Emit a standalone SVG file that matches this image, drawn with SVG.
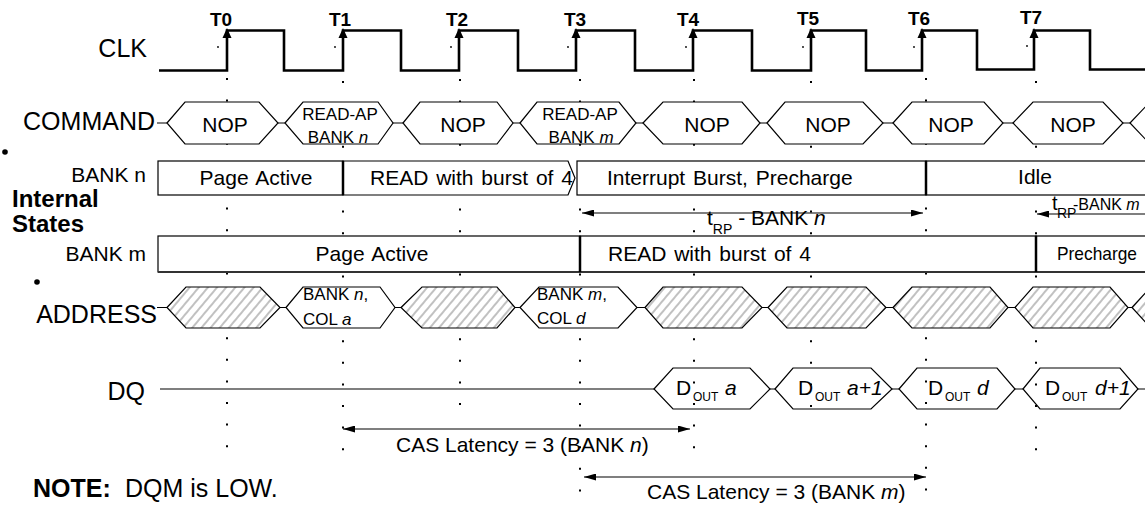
<svg xmlns="http://www.w3.org/2000/svg" width="1145" height="506" viewBox="0 0 1145 506">
<style>
text{font-family:"Liberation Sans",Arial,Helvetica,sans-serif;fill:#000}
.lbl{font-size:25px}
.bank{font-size:21px}
.tl{font-size:19px;font-weight:bold;text-anchor:middle}
.nop{font-size:21px;text-anchor:middle}
.sm{font-size:17px}
.smc{font-size:17px;text-anchor:middle}
.st{font-size:21px;word-spacing:2px}
.dq{font-size:21px}
.sub{font-size:12px}
.it{font-style:italic}
.hex{fill:#fff;stroke:#000;stroke-width:1.2}
.hx{fill:url(#hatch);stroke:#000;stroke-width:1.2}
.dqh{fill:none;stroke:#000;stroke-width:1.2}
.box{fill:#fff;stroke:#000;stroke-width:1.2}
.div{stroke:#000;stroke-width:2.5}
.grid{stroke:#000;stroke-width:2;stroke-dasharray:2 19.6;fill:none}
.wire{stroke:#000;stroke-width:1.2;fill:none}
.dim{stroke:#000;stroke-width:1.2;fill:none}
</style>
<defs>
<pattern id="hatch" width="7" height="10" patternUnits="userSpaceOnUse" patternTransform="rotate(40)">
<rect width="7" height="10" fill="#fff"/>
<line x1="1" y1="0" x2="1" y2="10" stroke="#a0a0a0" stroke-width="1.3"/>
</pattern>
<marker id="ah" viewBox="0 0 12 7" refX="12" refY="3.5" markerWidth="12" markerHeight="7" markerUnits="userSpaceOnUse" orient="auto-start-reverse">
<path d="M0,0 L12,3.5 L0,7 Z" fill="#000"/>
</marker>
</defs>
<rect width="1145" height="506" fill="#fff"/>

<!-- dotted time grid -->
<g id="grid">
<line class="grid" x1="227" y1="78" x2="227" y2="449"/>
<line class="grid" x1="343" y1="81" x2="343" y2="454"/>
<line class="grid" x1="460" y1="79" x2="460" y2="423"/>
<line class="grid" x1="580" y1="79" x2="580" y2="499"/>
<line class="grid" x1="694" y1="79" x2="694" y2="450"/>
<line class="grid" x1="811" y1="81" x2="811" y2="425"/>
<line class="grid" x1="926" y1="78" x2="926" y2="494"/>
<line class="grid" x1="1036" y1="81" x2="1036" y2="451"/>
<g fill="#000">
<circle cx="218" cy="47" r="0.9"/><circle cx="335" cy="47" r="0.9"/><circle cx="451" cy="47" r="0.9"/><circle cx="568" cy="47" r="0.9"/><circle cx="686" cy="47" r="0.9"/><circle cx="803" cy="47" r="0.9"/><circle cx="914" cy="47" r="0.9"/><circle cx="1027" cy="46" r="0.9"/>
<circle cx="5" cy="152" r="2.8"/><circle cx="37" cy="282" r="2.8"/>
</g>
</g>

<!-- row labels -->
<g id="labels">
<text class="lbl" x="147" y="57" text-anchor="end">CLK</text>
<text class="lbl" x="155" y="130" text-anchor="end">COMMAND</text>
<text class="bank" x="146" y="182" text-anchor="end">BANK n</text>
<text x="12" y="207" font-size="24" font-weight="bold">Internal</text>
<text x="12" y="232" font-size="24" font-weight="bold">States</text>
<text class="bank" x="146" y="261" text-anchor="end">BANK m</text>
<text class="lbl" x="157" y="323" text-anchor="end">ADDRESS</text>
<text class="lbl" x="145" y="400" text-anchor="end">DQ</text>
<text x="33" y="497" font-size="25"><tspan font-weight="bold">NOTE:</tspan><tspan x="125">DQM is LOW.</tspan></text>
</g>

<!-- clock -->
<g id="clk">
<path d="M159,70.5 H227 V30.5 H284 V70.5 H343 V30.5 H401 V70.5 H459 V30.5 H518 V70.5 H576 V30.5 H635 V70.5 H693 V30.5 H752 V70.5 H811 V30.5 H866 V70.5 H922 V30.5 H977 V69.5 H1034 V30.5 H1090 V69.5 H1145" fill="none" stroke="#000" stroke-width="2.6"/>
<g fill="#000">
<path d="M227,28 l-4.5,10 h9 z"/><path d="M343,28 l-4.5,10 h9 z"/><path d="M459,28 l-4.5,10 h9 z"/><path d="M576,28 l-4.5,10 h9 z"/><path d="M693,28 l-4.5,10 h9 z"/><path d="M811,28 l-4.5,10 h9 z"/><path d="M922,28 l-4.5,10 h9 z"/><path d="M1034,28 l-4.5,10 h9 z"/>
</g>
<text class="tl" x="221" y="26">T0</text>
<text class="tl" x="340" y="26">T1</text>
<text class="tl" x="457" y="26">T2</text>
<text class="tl" x="575" y="26">T3</text>
<text class="tl" x="688" y="26">T4</text>
<text class="tl" x="808" y="25">T5</text>
<text class="tl" x="919" y="25">T6</text>
<text class="tl" x="1031" y="24">T7</text>
</g>

<!-- connectors / bus wires and dimension arrows -->
<g id="connectors">
<line class="wire" x1="157" y1="123" x2="1145" y2="123"/>
<line class="wire" x1="157" y1="307.5" x2="1145" y2="307.5"/>
<path class="wire" d="M160,389 H654 M770,389 H775 M892,389 H899 M1015,389 H1023 M1138,389 H1145"/>
<line class="dim" x1="582" y1="213" x2="923" y2="213" marker-start="url(#ah)" marker-end="url(#ah)"/>
<line class="dim" x1="1037" y1="214" x2="1145" y2="214" marker-start="url(#ah)"/>
<line class="dim" x1="343" y1="429" x2="690" y2="429" marker-start="url(#ah)" marker-end="url(#ah)"/>
<line class="dim" x1="584" y1="477" x2="926" y2="477" marker-start="url(#ah)" marker-end="url(#ah)"/>
</g>

<!-- COMMAND -->
<g id="cmd1"><path class="hex" d="M167,123 L185,102 H259 L278,123 L259,144 H185 Z"/><text class="nop" x="225" y="132">NOP</text></g>
<g id="cmd2"><path class="hex" d="M285,123 L303,102 H378 L393,123 L378,144 H303 Z"/><text class="smc" x="340" y="120">READ-AP</text><text class="smc" x="338" y="143">BANK <tspan class="it">n</tspan></text></g>
<g id="cmd3"><path class="hex" d="M403,123 L420,102 H497 L513,123 L497,144 H420 Z"/><text class="nop" x="463" y="132">NOP</text></g>
<g id="cmd4"><path class="hex" d="M520,123 L537,102 H619 L636,123 L619,144 H537 Z"/><text class="smc" x="580" y="120">READ-AP</text><text class="smc" x="581" y="143">BANK <tspan class="it">m</tspan></text></g>
<g id="cmd5"><path class="hex" d="M643,123 L663,102 H742 L760,123 L742,144 H663 Z"/><text class="nop" x="707" y="132">NOP</text></g>
<g id="cmd6"><path class="hex" d="M767,123 L785,102 H863 L883,123 L863,144 H785 Z"/><text class="nop" x="828" y="132">NOP</text></g>
<g id="cmd7"><path class="hex" d="M893,123 L912,102 H984 L1003,123 L984,144 H912 Z"/><text class="nop" x="951" y="132">NOP</text></g>
<g id="cmd8"><path class="hex" d="M1013,123 L1033,102 H1103 L1123,123 L1103,144 H1033 Z"/><text class="nop" x="1073" y="132">NOP</text></g>
<g id="cmd9"><path class="hex" d="M1130,123 L1150,102 H1160 V144 H1150 Z"/></g>

<!-- Internal states BANK n -->
<g id="bn1"><rect class="box" x="158" y="161" width="185" height="34"/><text class="st" x="256" y="185" text-anchor="middle">Page Active</text></g>
<g id="bn2"><path class="box" d="M343,161 H568 L575,178 L568,195 H343 Z"/><text class="st" x="370" y="185">READ with burst of 4</text></g>
<g id="bn3"><rect class="box" x="577" y="161" width="349" height="34"/><text class="st" x="607" y="185" word-spacing="4">Interrupt Burst, Precharge</text></g>
<g id="bn4"><rect class="box" x="926" y="161" width="230" height="34"/><text class="st" x="1035" y="184" text-anchor="middle">Idle</text></g>
<line class="div" x1="343" y1="161" x2="343" y2="195"/>
<line class="div" x1="926" y1="161" x2="926" y2="195"/>

<!-- tRP labels -->
<g id="trp-n"><text x="707" y="225" font-size="21">t<tspan font-size="14" dy="9">RP</tspan><tspan dy="-9"> - BANK </tspan><tspan class="it">n</tspan></text></g>
<g id="trp-m"><text x="1052" y="210" font-size="20">t</text><text x="1057" y="218" font-size="14">RP</text><text x="1073" y="210" font-size="16">-BANK <tspan class="it">m</tspan></text></g>

<!-- Internal states BANK m -->
<g id="bm1"><rect class="box" x="158" y="236" width="422" height="36"/><text class="st" x="372" y="261" text-anchor="middle">Page Active</text></g>
<g id="bm2"><rect class="box" x="580" y="236" width="456" height="36"/><text class="st" x="608" y="261">READ with burst of 4</text></g>
<g id="bm3"><rect class="box" x="1036" y="236" width="120" height="36"/><text x="1057" y="260" font-size="19" textLength="80" lengthAdjust="spacingAndGlyphs">Precharge</text></g>
<line x1="158" y1="272" x2="1145" y2="272" stroke="#333" stroke-width="1.8"/>
<line class="div" x1="580" y1="236" x2="580" y2="272"/>
<line class="div" x1="1036" y1="236" x2="1036" y2="272"/>

<!-- ADDRESS -->
<g id="ad1"><path class="hx" d="M167,307.5 L186,287 H260 L280,307.5 L260,328 H186 Z"/></g>
<g id="ad2"><path class="hex" d="M286,307.5 L303,287 H380 L395,307.5 L380,328 H303 Z"/><text class="sm" x="303" y="300">BANK <tspan class="it">n</tspan>,</text><text class="sm" x="303" y="325">COL <tspan class="it">a</tspan></text></g>
<g id="ad3"><path class="hx" d="M401,307.5 L422,287 H497 L515,307.5 L497,328 H422 Z"/></g>
<g id="ad4"><path class="hex" d="M520,307.5 L539,287 H618 L637,307.5 L618,328 H539 Z"/><text class="sm" x="537" y="300">BANK <tspan class="it">m</tspan>,</text><text class="sm" x="537" y="324">COL <tspan class="it">d</tspan></text></g>
<g id="ad5"><path class="hx" d="M645,307.5 L663,287 H742 L762,307.5 L742,328 H663 Z"/></g>
<g id="ad6"><path class="hx" d="M768,307.5 L787,287 H866 L886,307.5 L866,328 H787 Z"/></g>
<g id="ad7"><path class="hx" d="M893,307.5 L912,287 H990 L1008,307.5 L990,328 H912 Z"/></g>
<g id="ad8"><path class="hx" d="M1015,307.5 L1033,287 H1110 L1128,307.5 L1110,328 H1033 Z"/></g>
<g id="ad9"><path class="hx" d="M1132,307.5 L1151,287 H1160 V328 H1151 Z"/></g>

<!-- DQ -->
<g id="dq1"><path class="dqh" d="M654,389 L673,368 H750 L770,389 L750,409 H673 Z"/><text class="dq" x="676" y="395">D<tspan class="sub" x="693" dy="6">OUT</tspan><tspan class="it" x="725" dy="-6">a</tspan></text></g>
<g id="dq2"><path class="dqh" d="M775,389 L793,368 H871 L892,389 L871,409 H793 Z"/><text class="dq" x="798" y="395">D<tspan class="sub" x="815" dy="6">OUT</tspan><tspan class="it" x="847" dy="-6">a+1</tspan></text></g>
<g id="dq3"><path class="dqh" d="M899,389 L917,368 H997 L1015,389 L997,409 H917 Z"/><text class="dq" x="928" y="395">D<tspan class="sub" x="945" dy="6">OUT</tspan><tspan class="it" x="977" dy="-6">d</tspan></text></g>
<g id="dq4"><path class="dqh" d="M1023,389 L1040,368 H1120 L1138,389 L1120,409 H1040 Z"/><text class="dq" x="1045" y="395">D<tspan class="sub" x="1062" dy="6">OUT</tspan><tspan class="it" x="1095" dy="-6">d+1</tspan></text></g>

<!-- CAS latency labels -->
<g id="cas-n"><text x="396" y="452" font-size="21">CAS Latency = 3 (BANK <tspan class="it">n</tspan>)</text></g>
<g id="cas-m"><text x="647" y="499" font-size="21">CAS Latency = 3 (BANK <tspan class="it">m</tspan>)</text></g>
</svg>
